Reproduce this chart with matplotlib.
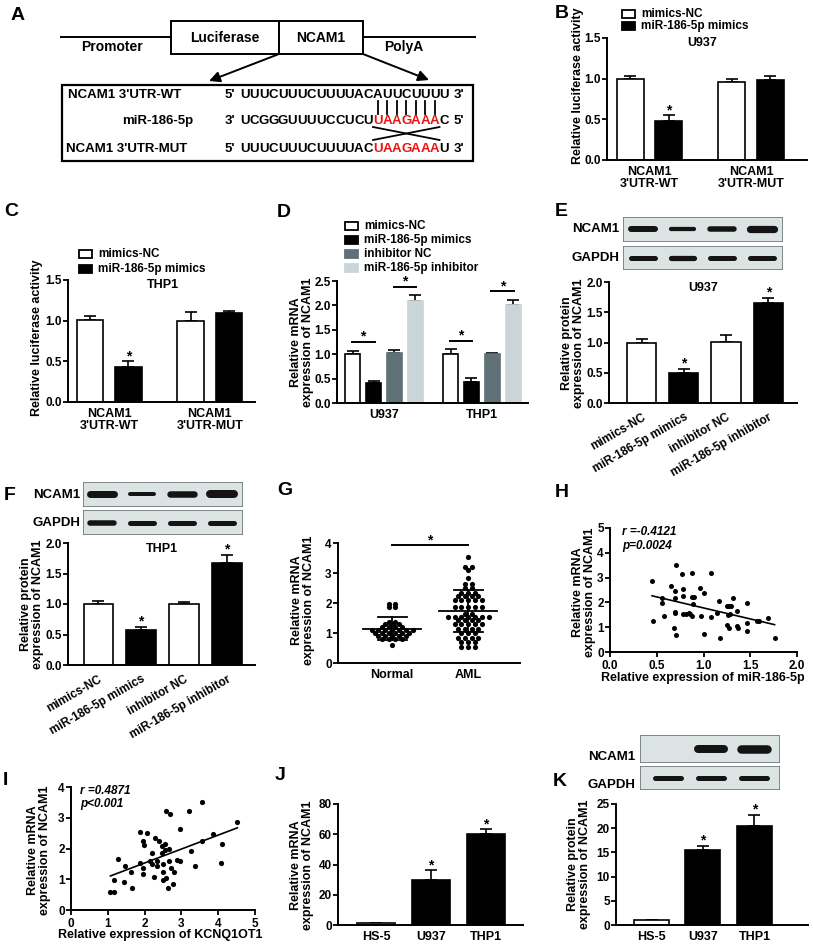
import numpy as np
import matplotlib
matplotlib.use("Agg")
import matplotlib.pyplot as plt
from matplotlib.patches import Rectangle, FancyArrowPatch
from matplotlib.ticker import FormatStrFormatter

plt.rcParams["font.family"] = ["Liberation Sans", "DejaVu Sans"]
plt.rcParams["font.weight"] = "bold"

W, H = 813, 946

# ---------------- data ----------------
# A: sequences
seq_wt = "UUUCUUUCUUUUACAUUCUUUU"
seq_mir = "UCGGGUUUUCCUCUUAAGAAAC"
seq_mut = "UUUCUUUCUUUUACUAAGAAAU"
seed_start, seed_len = 14, 7

# B / C: luciferase
luc_groups = ["NCAM1\n3'UTR-WT", "NCAM1\n3'UTR-MUT"]
luc_u937_nc = [1.0, 0.96]
luc_u937_nc_err = [0.03, 0.04]
luc_u937_mim = [0.48, 0.98]
luc_u937_mim_err = [0.07, 0.05]
luc_thp1_nc = [1.01, 0.99]
luc_thp1_nc_err = [0.05, 0.12]
luc_thp1_mim = [0.43, 1.1]
luc_thp1_mim_err = [0.07, 0.02]
luc_sig = [True, False]

# D: mRNA
mrna_cells = ["U937", "THP1"]
treat_labels = ["mimics-NC", "miR-186-5p mimics", "inhibitor NC", "miR-186-5p inhibitor"]
mrna_vals = [[1.0, 1.0], [0.42, 0.44], [1.02, 1.0], [2.1, 2.0]]
mrna_err = [[0.06, 0.1], [0.04, 0.07], [0.07, 0.03], [0.12, 0.12]]
mrna_sig_low = [1.25, 1.27]
mrna_sig_high = [2.38, 2.29]

# E / F: protein
prot_u937 = [1.0, 0.5, 1.01, 1.66]
prot_u937_err = [0.06, 0.07, 0.11, 0.08]
prot_thp1 = [1.0, 0.57, 1.0, 1.68]
prot_thp1_err = [0.05, 0.06, 0.04, 0.13]
prot_sig = [False, True, False, True]
blot_e_ncam1 = [1.2, 0.85, 1.1, 1.45]
blot_e_gapdh = [1.0, 1.05, 1.0, 1.0]
blot_f_ncam1 = [1.4, 0.8, 1.3, 1.6]
blot_f_gapdh = [1.1, 1.0, 1.0, 1.0]

# G: tissue
normal_vals = [1.98, 1.98, 1.87, 1.87, 1.37, 1.37, 1.29, 1.29, 1.29,
               1.2, 1.2, 1.2, 1.2, 1.11, 1.11, 1.11, 1.11, 1.11, 1.11, 1.11,
               1.0, 1.0, 1.0, 1.0, 1.0, 1.0, 0.89, 0.89, 0.89, 0.89, 0.89,
               0.81, 0.81, 0.81, 0.81, 0.59]
aml_vals = [3.52, 3.2, 3.2, 3.1, 2.83, 2.62, 2.62, 2.5, 2.5, 2.35, 2.35, 2.35,
            2.25, 2.25, 2.25, 2.25, 2.1, 2.1, 2.1, 2.1, 2.1,
            1.87, 1.87, 1.87, 1.87, 1.87, 1.65, 1.65,
            1.55, 1.55, 1.55, 1.55, 1.55, 1.55, 1.55,
            1.45, 1.45, 1.45, 1.45, 1.3, 1.3, 1.3, 1.3, 1.3,
            1.15, 1.15, 1.15, 1.15, 1.0, 1.0, 1.0, 0.85, 0.85, 0.85, 0.85,
            0.7, 0.7, 0.7, 0.55, 0.55, 0.55]
tissue_groups = ["Normal", "AML"]
tissue_mean = [1.15, 1.73]
tissue_sd = [0.37, 0.71]
tissue_sig = 3.93

# H: miR-186-5p vs NCAM1
h_x = [0.45, 0.46, 0.56, 0.56, 0.58, 0.65, 0.68, 0.69, 0.7, 0.7, 0.7, 0.71, 0.71,
       0.77, 0.78, 0.78, 0.78, 0.81, 0.84, 0.86, 0.88, 0.88, 0.9, 0.89, 0.88,
       0.96, 0.97, 1.01, 1.01, 1.08, 1.08, 1.14, 1.17, 1.18, 1.25, 1.26, 1.27,
       1.28, 1.29, 1.25, 1.27, 1.32, 1.36, 1.36, 1.37, 1.47, 1.46, 1.46, 1.57,
       1.59, 1.69, 1.76]
h_y = [2.86, 1.26, 2.19, 1.99, 1.46, 2.66, 0.95, 1.62, 1.58, 2.16, 2.47, 3.51, 0.7,
       3.14, 2.27, 2.53, 1.53, 1.53, 1.58, 1.55, 3.2, 2.23, 2.23, 1.93, 1.46,
       2.57, 1.46, 2.36, 0.72, 3.2, 1.42, 1.59, 2.07, 0.58, 1.86, 1.49, 1.86,
       1.53, 1.85, 1.08, 0.95, 2.16, 1.66, 1.05, 0.97, 1.96, 1.15, 0.85, 1.26,
       1.26, 1.38, 0.58]

# I: KCNQ1OT1 vs NCAM1
i_x = [1.07, 1.18, 1.16, 1.27, 1.45, 1.47, 1.64, 1.65, 1.88, 1.88, 1.96, 1.97,
       1.99, 1.97, 2.06, 2.15, 2.2, 2.2, 2.26, 2.29, 2.33, 2.35, 2.39, 2.46,
       2.47, 2.5, 2.5, 2.51, 2.56, 2.56, 2.58, 2.59, 2.63, 2.68, 2.67, 2.67,
       2.73, 2.76, 2.8, 2.88, 2.97, 2.97, 3.22, 3.27, 3.37, 3.55, 3.57, 3.85,
       4.07, 4.1, 4.52]
i_y = [0.57, 0.57, 0.98, 1.65, 0.92, 1.43, 1.25, 0.71, 2.55, 1.54, 1.38, 2.23,
       2.13, 1.16, 2.5, 1.58, 1.85, 1.49, 1.07, 2.35, 1.43, 1.59, 2.23, 1.85,
       2.07, 1.5, 0.96, 1.25, 2.15, 1.96, 1.05, 3.23, 0.71, 3.12, 1.98, 1.59,
       1.36, 0.84, 1.25, 1.63, 2.64, 1.58, 3.21, 1.92, 1.43, 3.51, 2.26, 2.47,
       1.52, 2.15, 2.85]

# J / K: cell lines
cell_lines = ["HS-5", "U937", "THP1"]
cell_mrna = [1.0, 29.8, 60.0]
cell_mrna_err = [0.0, 6.5, 3.2]
cell_prot = [1.0, 15.5, 20.4]
cell_prot_err = [0.0, 0.9, 2.4]
cell_sig = [False, True, True]
blot_k_ncam1 = [0.0, 1.6, 1.7]
blot_k_gapdh = [1.0, 1.0, 1.0]

GRAY = "#5f7177"
LIGHT = "#c9d5d7"

fig = plt.figure(figsize=(W / 100, H / 100), dpi=100)


def px_axes(x0, x1, y0, y1):
    # plot area spanning pixel box x0..x1 and y0 (top)..y1 (bottom)
    return fig.add_axes([x0 / W, 1 - y1 / H, (x1 - x0) / W, (y1 - y0) / H])


def prism(ax, ymax, ystep, yfmt, xticks=False):
    ax.set_facecolor("none")
    for s in ("top", "right"):
        ax.spines[s].set_visible(False)
    for s in ("left", "bottom"):
        ax.spines[s].set_linewidth(1.4)
    ax.set_ylim(0, ymax)
    ax.set_yticks(np.arange(0, ymax + ystep / 2, ystep))
    ax.yaxis.set_major_formatter(FormatStrFormatter(yfmt))
    ax.tick_params(axis="y", length=3.5, width=1.3, pad=1, labelsize=8.5)
    ax.tick_params(axis="x", length=3.5 if xticks else 0, width=1.3,
                   pad=2 if xticks else 4, labelsize=8.5)


def star(ax, x, top):
    ax.annotate("*", (x, top), xytext=(0, 0.8), textcoords="offset points",
                ha="center", va="baseline", fontsize=10)


def bars_with_err(ax, xs, vals, errs, width, fc, ec, sig=None):
    ax.bar(xs, vals, width, color=fc, edgecolor=ec, linewidth=1.2, zorder=2)
    ax.errorbar(xs, vals, yerr=[np.zeros(len(vals)), errs], fmt="none",
                ecolor="black", elinewidth=1.2, capsize=4, capthick=1.2, zorder=1)
    if sig is not None:
        for x, v, e, s in zip(xs, vals, errs, sig):
            if s:
                star(ax, x, v + e)


def blot(x0, x1, y0, y1, xlim, intens):
    bax = px_axes(x0, x1, y0, y1)
    bax.set_xlim(*xlim)
    bax.set_ylim(0, 1)
    bax.axis("off")
    bax.add_patch(Rectangle((0, 0), 1, 1, transform=bax.transAxes,
                            fc="#dce3e3", ec="#6e7979", lw=1.2))
    for i, v in enumerate(intens):
        if v <= 0:
            continue
        bax.plot([i - 0.3, i + 0.3], [0.5, 0.5], color="#141414",
                 lw=5 * v * 0.72, solid_capstyle="round")


def luc_panel(ax, nc, nc_err, mim, mim_err, xlim):
    g = np.arange(len(luc_groups))
    prism(ax, 1.5, 0.5, "%.1f")
    ax.set_xlim(*xlim)
    bars_with_err(ax, g - 0.19, nc, nc_err, 0.265, "white", "black")
    bars_with_err(ax, g + 0.19, mim, mim_err, 0.265, "black", "black", luc_sig)
    ax.set_xticks(g)
    ax.set_xticklabels(luc_groups, fontsize=9, linespacing=1.05)


# ---- B ----
ax_b = px_axes(607, 807, 38, 160)
luc_panel(ax_b, luc_u937_nc, luc_u937_nc_err, luc_u937_mim, luc_u937_mim_err, (-0.42, 1.55))

# ---- C ----
ax_c = px_axes(68, 255, 280, 402)
luc_panel(ax_c, luc_thp1_nc, luc_thp1_nc_err, luc_thp1_mim, luc_thp1_mim_err, (-0.41, 1.45))

# ---- D ----
ax_d = px_axes(337, 528, 281, 403)
prism(ax_d, 2.5, 0.5, "%.1f")
ax_d.set_xlim(-0.48, 1.47)
gd = np.arange(len(mrna_cells))
d_colors = ["white", "black", GRAY, LIGHT]
d_edges = ["black", "black", GRAY, LIGHT]
step_d = 0.214
for k in range(4):
    bars_with_err(ax_d, gd + (k - 1.5) * step_d, mrna_vals[k], mrna_err[k], 0.153,
                  d_colors[k], d_edges[k])
for g in gd:
    for (a, b), h in (((0, 1), mrna_sig_low[g]), ((2, 3), mrna_sig_high[g])):
        xa = g + (a - 1.5) * step_d
        xb = g + (b - 1.5) * step_d
        ax_d.plot([xa - 0.01, xb + 0.01], [h, h], color="black", lw=1.4)
        star(ax_d, (xa + xb) / 2, h)
ax_d.set_xticks(gd)
ax_d.set_xticklabels(mrna_cells, fontsize=9)


# ---- E / F ----
def prot_panel(ax, vals, errs, xlim):
    prism(ax, 2.0, 0.5, "%.1f")
    ax.set_xlim(*xlim)
    x = np.arange(len(vals))
    cols = ["white", "black", "white", "black"]
    for i in x:
        bars_with_err(ax, [i], [vals[i]], [errs[i]], 0.69, cols[i], "black", [prot_sig[i]])
    ax.set_xticks(x)
    ax.set_xticklabels(treat_labels, rotation=30, ha="right", rotation_mode="anchor",
                       fontsize=8.5)
    ax.tick_params(axis="x", pad=6)


ax_e = px_axes(609, 797, 282, 403)
prot_panel(ax_e, prot_u937, prot_u937_err, (-0.77, 3.68))
ax_f = px_axes(68, 255, 543, 665)
prot_panel(ax_f, prot_thp1, prot_thp1_err, (-0.71, 3.66))

blot(623, 783, 217, 242, (-0.5, 3.53), blot_e_ncam1)
blot(623, 783, 246, 270, (-0.5, 3.53), blot_e_gapdh)
blot(83, 243, 482, 507, (-0.475, 3.525), blot_f_ncam1)
blot(83, 243, 510, 535, (-0.475, 3.525), blot_f_gapdh)

# ---- G ----
ax_g = px_axes(338, 520, 543, 663)
prism(ax_g, 4, 1, "%d")
ax_g.set_xlim(-0.71, 1.68)


def swarm_offsets(vals, dx):
    vals = np.asarray(vals)
    offs = np.zeros(len(vals))
    for v in np.unique(vals):
        idx = np.where(vals == v)[0]
        offs[idx] = (np.arange(len(idx)) - (len(idx) - 1) / 2) * dx
    return offs


for gi, vals in enumerate([normal_vals, aml_vals]):
    xs = gi + swarm_offsets(vals, 0.09)
    ax_g.scatter(xs, vals, s=14, color="black", zorder=3, linewidths=0)
    m, sd = tissue_mean[gi], tissue_sd[gi]
    ax_g.plot([gi - 0.38, gi + 0.38], [m, m], color="black", lw=1.3, zorder=4)
    ax_g.plot([gi, gi], [m - sd, m + sd], color="black", lw=1.3, zorder=4)
    for yv in (m - sd, m + sd):
        ax_g.plot([gi - 0.19, gi + 0.19], [yv, yv], color="black", lw=1.3, zorder=4)
ax_g.plot([0, 1], [tissue_sig, tissue_sig], color="black", lw=1.4)
star(ax_g, 0.5, tissue_sig)
ax_g.set_xticks([0, 1])
ax_g.set_xticklabels(tissue_groups, fontsize=9)

# ---- H ----
ax_h = px_axes(610, 797, 528, 652)
prism(ax_h, 5, 1, "%d", xticks=True)
ax_h.set_xlim(0, 2)
ax_h.set_xticks(np.arange(0, 2.01, 0.5))
ax_h.xaxis.set_major_formatter(FormatStrFormatter("%.1f"))
ax_h.scatter(h_x, h_y, s=13, color="black", linewidths=0, zorder=3)
ph = np.polyfit(h_x, h_y, 1)
xh = np.array([min(h_x), max(h_x)])
ax_h.plot(xh, np.polyval(ph, xh), color="black", lw=1.2)

# ---- I ----
ax_i = px_axes(71, 255, 787, 910)
prism(ax_i, 4, 1, "%d", xticks=True)
ax_i.set_xlim(0, 5)
ax_i.set_xticks(np.arange(0, 6, 1))
ax_i.xaxis.set_major_formatter(FormatStrFormatter("%d"))
ax_i.scatter(i_x, i_y, s=14, color="black", linewidths=0, zorder=3)
pi_ = np.polyfit(i_x, i_y, 1)
xi = np.array([min(i_x), max(i_x)])
ax_i.plot(xi, np.polyval(pi_, xi), color="black", lw=1.2)


# ---- J / K ----
def cell_panel(ax, vals, errs, ymax, ystep, xlim, width):
    prism(ax, ymax, ystep, "%d")
    ax.set_xlim(*xlim)
    x = np.arange(len(vals))
    cols = ["white", "black", "black"]
    for i in x:
        bars_with_err(ax, [i], [vals[i]], [errs[i]], width, cols[i], "black", [cell_sig[i]])
    ax.set_xticks(x)
    ax.set_xticklabels(cell_lines, fontsize=9)


ax_j = px_axes(338, 523, 804, 925)
cell_panel(ax_j, cell_mrna, cell_mrna_err, 80, 20, (-0.69, 2.67), 0.69)
ax_k = px_axes(616, 808, 804, 925)
cell_panel(ax_k, cell_prot, cell_prot_err, 25, 5, (-0.69, 3.04), 0.68)
blot(640, 780, 735, 763, (-0.65, 2.6), blot_k_ncam1)
blot(640, 780, 766, 790, (-0.65, 2.6), blot_k_gapdh)

# ---------------- overlay (pixel coordinates) ----------------
ov = fig.add_axes([0, 0, 1, 1])
ov.set_xlim(0, W)
ov.set_ylim(H, 0)
ov.axis("off")

# panel letters
for lab, (x, y) in {"A": (18, 15), "B": (562, 14), "C": (11, 211), "D": (284, 212),
                    "E": (561, 211), "F": (10, 495), "G": (285, 490), "H": (562, 492),
                    "I": (5, 780), "J": (280, 775), "K": (560, 781)}.items():
    ov.text(x, y, lab, fontsize=14, ha="center", va="center")

# A: construct diagram
ov.plot([61, 171], [37, 37], color="black", lw=1.4)
ov.plot([363, 475], [37, 37], color="black", lw=1.4)
ov.add_patch(Rectangle((171, 21), 108, 33, fc="white", ec="black", lw=1.4))
ov.add_patch(Rectangle((279, 21), 84, 33, fc="white", ec="black", lw=1.4))
ov.text(225, 37.5, "Luciferase", fontsize=10, ha="center", va="center")
ov.text(321, 37.5, "NCAM1", fontsize=10, ha="center", va="center")
ov.text(112, 47, "Promoter", fontsize=10, ha="center", va="center")
ov.text(404, 47, "PolyA", fontsize=10, ha="center", va="center")
for start, end in (((279, 54), (209, 81)), ((363, 54), (429, 80))):
    ov.add_patch(FancyArrowPatch(start, end, arrowstyle="-|>", mutation_scale=16,
                                 color="black", lw=1.4, shrinkA=0, shrinkB=0))
ov.add_patch(Rectangle((62, 85), 411, 76, fc="white", ec="black", lw=1.6))

rows_y = [95, 121, 149]
ov.text(68, rows_y[0], "NCAM1 3'UTR-WT", fontsize=9.5, va="center")
ov.text(193, rows_y[1], "miR-186-5p", fontsize=9.5, va="center", ha="right")
ov.text(66, rows_y[2], "NCAM1 3'UTR-MUT", fontsize=9.5, va="center")
char_step = 9.5
char_x0 = 240
ends = [("5'", "3'"), ("3'", "5'"), ("5'", "3'")]
for r, seq in enumerate([seq_wt, seq_mir, seq_mut]):
    y = rows_y[r]
    ov.text(char_x0 - 5, y, ends[r][0], fontsize=9.5, va="center", ha="right")
    for i, ch in enumerate(seq):
        red = r > 0 and seed_start <= i < seed_start + seed_len
        ov.text(char_x0 + (i + 0.5) * char_step, y, ch, fontsize=9.5, ha="center",
                va="center", color="#ee1111" if red else "black")
    ov.text(char_x0 + len(seq) * char_step + 5, y, ends[r][1], fontsize=9.5, va="center")
seed_l = char_x0 + seed_start * char_step
seed_r = seed_l + seed_len * char_step
for i in range(seed_len):
    xc = seed_l + (i + 0.5) * char_step
    ov.plot([xc, xc], [101, 114], color="black", lw=1.3)
ov.plot([seed_l, seed_r], [127, 140], color="black", lw=1.3)
ov.plot([seed_l, seed_r], [140, 127], color="black", lw=1.3)


# legends
def legend(x, ys, colors, edges, labels):
    for y, c, e, l in zip(ys, colors, edges, labels):
        ov.add_patch(Rectangle((x, y - 4), 13, 8, fc=c, ec=e, lw=1.3))
        ov.text(x + 19, y, l, fontsize=8.5, va="center")


legend(622, [14, 26], ["white", "black"], ["black", "black"], treat_labels[:2])
legend(79, [254, 269], ["white", "black"], ["black", "black"], treat_labels[:2])
legend(345, [226, 240, 254, 268], d_colors, d_edges, treat_labels)

# titles
ov.text(702, 43, "U937", fontsize=9, ha="center", va="center")
ov.text(163, 285, "THP1", fontsize=9, ha="center", va="center")
ov.text(703, 288, "U937", fontsize=9, ha="center", va="center")
ov.text(162, 549, "THP1", fontsize=9, ha="center", va="center")

# blot labels
for x, y, lab in [(619, 229, "NCAM1"), (619, 258, "GAPDH"), (80, 495, "NCAM1"),
                  (80, 523, "GAPDH"), (635, 757, "NCAM1"), (635, 785, "GAPDH")]:
    ov.text(x, y, lab, fontsize=9.5, ha="right", va="center")

# y labels
for x, y, lab in [(578, 86, "Relative luciferase activity"),
                  (37, 338, "Relative luciferase activity"),
                  (302, 342, "Relative mRNA\nexpression of NCAM1"),
                  (573, 343, "Relative protein\nexpression of NCAM1"),
                  (32, 604, "Relative protein\nexpression of NCAM1"),
                  (303, 600, "Relative mRNA\nexpression of NCAM1"),
                  (584, 592, "Relative mRNA\nexpression of NCAM1"),
                  (39, 850, "Relative mRNA\nexpression of NCAM1"),
                  (302, 865, "Relative mRNA\nexpression of NCAM1"),
                  (579, 864, "Relative protein\nexpression of NCAM1")]:
    ov.text(x, y, lab, fontsize=9, rotation=90, ha="center", va="center",
            multialignment="center", linespacing=1.0)

# scatter x labels and stats
ov.text(703, 678, "Relative expression of miR-186-5p", fontsize=9, ha="center", va="center")
ov.text(160, 935, "Relative expression of KCNQ1OT1", fontsize=9, ha="center", va="center")
ov.text(622, 532, "r =-0.4121", fontsize=8.5, style="italic", va="center")
ov.text(622, 546, "p=0.0024", fontsize=8.5, style="italic", va="center")
ov.text(80, 791, "r =0.4871", fontsize=8.5, style="italic", va="center")
ov.text(80, 804, "p<0.001", fontsize=8.5, style="italic", va="center")

fig.savefig("out.png", dpi=100)
